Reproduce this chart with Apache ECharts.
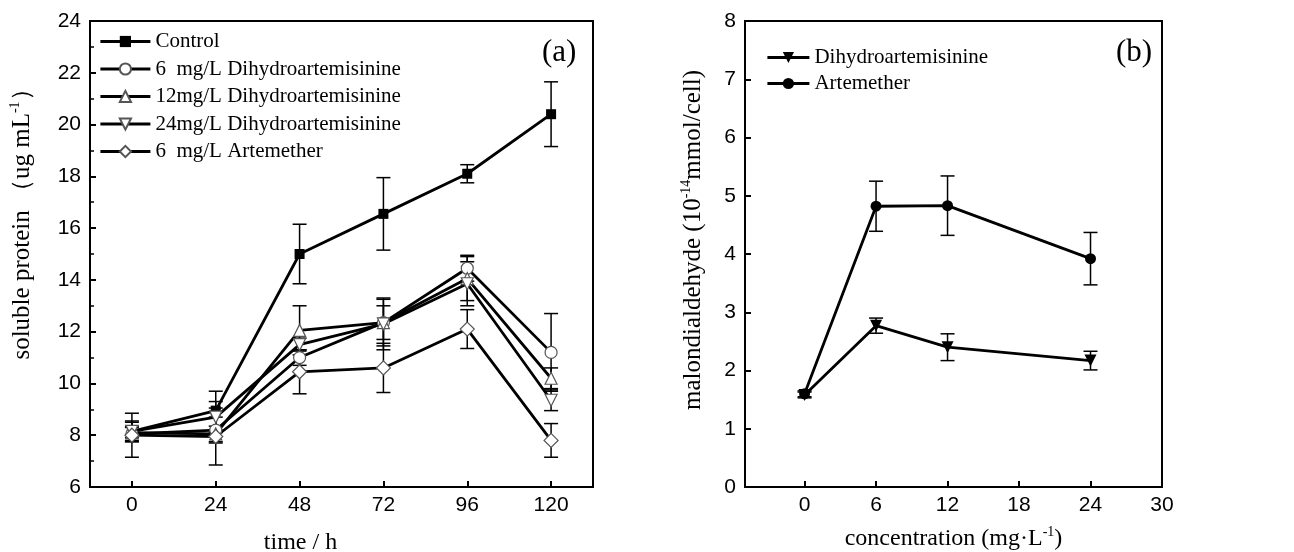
<!DOCTYPE html>
<html>
<head>
<meta charset="utf-8">
<script src="https://cdn.jsdelivr.net/npm/echarts@6/dist/echarts.min.js"></script>
<style>
  html, body { margin: 0; padding: 0; background: #fff; }
  #chart { width: 1294px; height: 552px; }
</style>
</head>
<body>
<div id="chart"></div>
<script>
// panel (a): soluble protein vs time
var timeH = [0, 24, 48, 72, 96, 120];
var timeTicks = [0, 24, 48, 72, 96, 120];
var control = [8.15, 8.95, 15.0, 16.55, 18.1, 20.4];
var controlErr = [0.35, 0.75, 1.15, 1.4, 0.35, 1.25];
var dha6 = [8.05, 8.2, 11.0, 12.35, 14.45, 11.2];
var dha6Err = [0.3, 0.5, 0.3, 0.9, 0.5, 1.5];
var dha12 = [8.1, 8.05, 12.05, 12.35, 14.05, 10.2];
var dha12Err = [0.2, 0.3, 0.95, 0.65, 0.85, 0.4];
var dha24 = [8.15, 8.7, 11.5, 12.3, 13.85, 9.35];
var dha24Err = [0.4, 0.6, 0.25, 1.0, 0.85, 0.4];
var art6 = [8.0, 7.95, 10.45, 10.6, 12.1, 7.8];
var art6Err = [0.85, 1.1, 0.85, 0.95, 0.75, 0.65];

// panel (b): malondialdehyde vs concentration
var conc = [0, 6, 12, 24];
var concTicks = [0, 6, 12, 18, 24, 30];
var dhaMda = [1.58, 2.77, 2.4, 2.17];
var dhaMdaErr = [0.05, 0.13, 0.23, 0.16];
var artMda = [1.6, 4.82, 4.83, 3.92];
var artMdaErr = [0.05, 0.43, 0.51, 0.45];

var serif = 'Liberation Serif';
var sans = 'Liberation Sans';

function pairs(xs, ys) {
    return xs.map(function (x, i) { return [x, ys[i]]; });
}

function lineSeries(name, idx, xs, ys, symbol, rotate, filled, size) {
    return {
        name: name,
        type: 'line',
        xAxisIndex: idx,
        yAxisIndex: idx,
        data: pairs(xs, ys),
        symbol: symbol,
        symbolRotate: rotate,
        symbolSize: size,
        showAllSymbol: true,
        z: 3,
        lineStyle: { color: '#000', width: 2.8 },
        itemStyle: filled ? { color: '#000' } : { color: '#fff', borderColor: '#555', borderWidth: 1.2 }
    };
}

function errSeries(idx, xs, ys, errs) {
    return {
        type: 'custom',
        xAxisIndex: idx,
        yAxisIndex: idx,
        z: 2,
        silent: true,
        data: xs.map(function (x, i) { return [x, ys[i] - errs[i], ys[i] + errs[i]]; }),
        encode: { x: 0, y: [1, 2] },
        renderItem: function (params, api) {
            var lo = api.coord([api.value(0), api.value(1)]);
            var hi = api.coord([api.value(0), api.value(2)]);
            var w = 7;
            var st = { stroke: '#000', lineWidth: 1.5 };
            return {
                type: 'group',
                children: [
                    { type: 'line', shape: { x1: lo[0], y1: lo[1], x2: hi[0], y2: hi[1] }, style: st },
                    { type: 'line', shape: { x1: lo[0] - w, y1: lo[1], x2: lo[0] + w, y2: lo[1] }, style: st },
                    { type: 'line', shape: { x1: hi[0] - w, y1: hi[1], x2: hi[0] + w, y2: hi[1] }, style: st }
                ]
            };
        }
    };
}

function supRich(size) {
    return {
        t: { fontFamily: serif, fontSize: size, color: '#000' },
        s: { fontFamily: serif, fontSize: Math.round(size * 0.58), color: '#000', padding: [0, 0, Math.round(size * 0.55), 0] }
    };
}

var axisLine = { show: true, onZero: false, lineStyle: { color: '#000', width: 2 } };
var tickLabel = { fontFamily: sans, fontSize: 21, color: '#000' };
var legendText = { fontFamily: serif, fontSize: 21, color: '#000' };

var myChart = echarts.init(document.getElementById('chart'));

var option = {
    animation: false,
    backgroundColor: '#fff',
    grid: [
        { left: 90, top: 21, width: 503, height: 466, show: true, borderColor: '#000', borderWidth: 2, outerBoundsMode: 'none', containLabel: false },
        { left: 745, top: 21, width: 417, height: 466, show: true, borderColor: '#000', borderWidth: 2, outerBoundsMode: 'none', containLabel: false }
    ],
    xAxis: [{
        gridIndex: 0,
        type: 'value',
        min: -12,
        max: 132,
        name: 'time / h',
        nameLocation: 'middle',
        nameGap: 44,
        nameTextStyle: { fontFamily: serif, fontSize: 24, color: '#000', padding: [0, 82, 0, 0] },
        axisLine: axisLine,
        axisTick: { inside: true, length: 6, customValues: timeTicks, lineStyle: { color: '#000', width: 2 } },
        axisLabel: Object.assign({ customValues: timeTicks, margin: 8 }, tickLabel),
        splitLine: { show: false }
    }, {
        gridIndex: 1,
        type: 'value',
        min: -5,
        max: 30,
        name: '{t|concentration (mg·L}{s|-1}{t|)}',
        nameLocation: 'middle',
        nameGap: 38,
        nameTextStyle: { rich: supRich(24) },
        axisLine: axisLine,
        axisTick: { inside: true, length: 6, customValues: concTicks, lineStyle: { color: '#000', width: 2 } },
        axisLabel: Object.assign({ customValues: concTicks, margin: 8 }, tickLabel),
        splitLine: { show: false }
    }],
    yAxis: [{
        gridIndex: 0,
        type: 'value',
        min: 6,
        max: 24,
        interval: 2,
        name: '{t|soluble protein （ug mL}{s|-1}{t|）}',
        nameLocation: 'middle',
        nameGap: 54,
        nameTextStyle: { rich: supRich(25), padding: [0, 0, 0, 72] },
        axisLine: axisLine,
        axisTick: { inside: true, length: 6, lineStyle: { color: '#000', width: 2 } },
        minorTick: { show: true, splitNumber: 2, length: 4, lineStyle: { color: '#000', width: 1.5 } },
        axisLabel: Object.assign({ margin: 9 }, tickLabel),
        splitLine: { show: false }
    }, {
        gridIndex: 1,
        type: 'value',
        min: 0,
        max: 8,
        interval: 1,
        name: '{t|malondialdehyde (10}{s|-14}{t|mmol/cell)}',
        nameLocation: 'middle',
        nameGap: 38,
        nameTextStyle: { rich: supRich(25), padding: [0, 0, 0, 28] },
        axisLine: axisLine,
        axisTick: { inside: true, length: 6, lineStyle: { color: '#000', width: 2 } },
        axisLabel: Object.assign({ margin: 9 }, tickLabel),
        splitLine: { show: false }
    }],
    legend: [{
        left: 94,
        top: 26,
        orient: 'vertical',
        itemWidth: 50,
        itemHeight: 14,
        itemGap: 6.5,
        lineStyle: { width: 2.8 },
        textStyle: legendText,
        data: ['Control', '6  mg/L Dihydroartemisinine', '12mg/L Dihydroartemisinine',
               '24mg/L Dihydroartemisinine', '6  mg/L Artemether']
    }, {
        left: 761,
        top: 42,
        orient: 'vertical',
        itemWidth: 42,
        itemHeight: 14,
        itemGap: 5,
        lineStyle: { width: 2.8 },
        textStyle: legendText,
        data: ['Dihydroartemisinine', 'Artemether']
    }],
    graphic: [
        { type: 'text', left: 542, top: 37, style: { text: '(a)', font: '31px "Liberation Serif"', fill: '#000' } },
        { type: 'text', left: 1116, top: 37, style: { text: '(b)', font: '31px "Liberation Serif"', fill: '#000' } }
    ],
    series: [
        errSeries(0, timeH, control, controlErr),
        errSeries(0, timeH, dha6, dha6Err),
        errSeries(0, timeH, dha12, dha12Err),
        errSeries(0, timeH, dha24, dha24Err),
        errSeries(0, timeH, art6, art6Err),
        lineSeries('Control', 0, timeH, control, 'rect', 0, true, 10),
        lineSeries('6  mg/L Dihydroartemisinine', 0, timeH, dha6, 'circle', 0, false, 12),
        lineSeries('12mg/L Dihydroartemisinine', 0, timeH, dha12, 'triangle', 0, false, 12),
        lineSeries('24mg/L Dihydroartemisinine', 0, timeH, dha24, 'triangle', 180, false, 12),
        lineSeries('6  mg/L Artemether', 0, timeH, art6, 'diamond', 0, false, 14),
        errSeries(1, conc, dhaMda, dhaMdaErr),
        errSeries(1, conc, artMda, artMdaErr),
        lineSeries('Dihydroartemisinine', 1, conc, dhaMda, 'triangle', 180, true, 12),
        lineSeries('Artemether', 1, conc, artMda, 'circle', 0, true, 11)
    ]
};

myChart.setOption(option);
</script>
</body>
</html>
